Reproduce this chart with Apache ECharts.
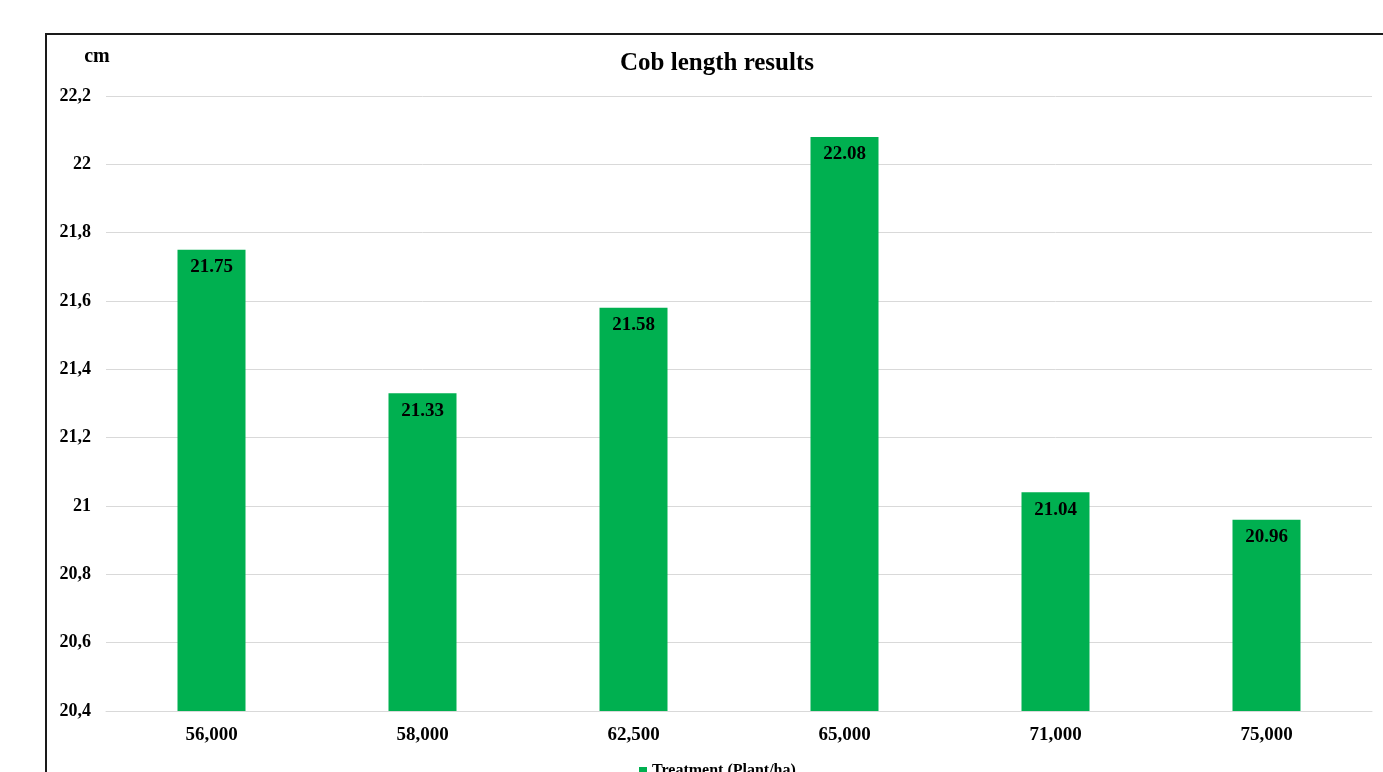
<!DOCTYPE html>
<html>
<head>
<meta charset="utf-8">
<script src="https://cdn.jsdelivr.net/npm/echarts@6/dist/echarts.min.js"></script>
<style>
  html, body { margin: 0; padding: 0; background: #fff; }
  #chart { width: 1383px; height: 772px; }
</style>
</head>
<body>
<div id="chart"></div>
<script>
// Plant densities (plants/ha) and measured cob length (cm)
const categories = ['56,000', '58,000', '62,500', '65,000', '71,000', '75,000'];
const cobLength = [21.75, 21.33, 21.58, 22.08, 21.04, 20.96];
const seriesName = 'Treatment (Plant/ha)';
const yMin = 20.4, yMax = 22.2, yStep = 0.2;

const serif = '"Liberation Serif", "DejaVu Serif", serif';
const green = '#00B050';

const chart = echarts.init(document.getElementById('chart'));
chart.setOption({
  animation: false,
  backgroundColor: '#fff',
  title: {
    text: 'Cob length results',
    left: 712, top: 46, textAlign: 'center',
    textStyle: { fontFamily: serif, fontWeight: 'bold', fontSize: 25, color: '#000' }
  },
  legend: {
    data: [seriesName],
    left: 634, top: 758,
    itemWidth: 8, itemHeight: 8, itemGap: 3,
    icon: 'rect',
    textStyle: { fontFamily: serif, fontWeight: 'bold', fontSize: 16, color: '#000' }
  },
  graphic: [
    { type: 'rect', shape: { x: 46, y: 34, width: 1400, height: 800 },
      style: { fill: 'none', stroke: '#1a1a1a', lineWidth: 2 }, silent: true },
    { type: 'text', x: 97, y: 57,
      style: { text: 'cm', font: 'bold 20px ' + serif, fill: '#000', textAlign: 'center', textVerticalAlign: 'middle' } }
  ],
  grid: { left: 106, right: 11, top: 96, bottom: 61, containLabel: false },
  xAxis: {
    type: 'category',
    data: categories,
    axisLine: { lineStyle: { color: '#d9d9d9', width: 1 } },
    axisTick: { show: false },
    axisLabel: { fontFamily: serif, fontWeight: 'bold', fontSize: 19, color: '#000', margin: 15 }
  },
  yAxis: {
    type: 'value',
    min: yMin, max: yMax, interval: yStep,
    axisLine: { show: false },
    axisTick: { show: false },
    splitLine: { lineStyle: { color: '#d9d9d9', width: 1 } },
    axisLabel: {
      fontFamily: serif, fontWeight: 'bold', fontSize: 18, color: '#000', margin: 15,
      formatter: v => String(+v.toFixed(1)).replace('.', ',')
    }
  },
  series: [{
    name: seriesName,
    type: 'bar',
    data: cobLength,
    barWidth: 68,
    itemStyle: { color: green },
    label: {
      show: true, position: 'insideTop', distance: 8,
      fontFamily: serif, fontWeight: 'bold', fontSize: 19, color: '#000',
      formatter: p => p.value.toFixed(2)
    }
  }]
});
</script>
</body>
</html>
